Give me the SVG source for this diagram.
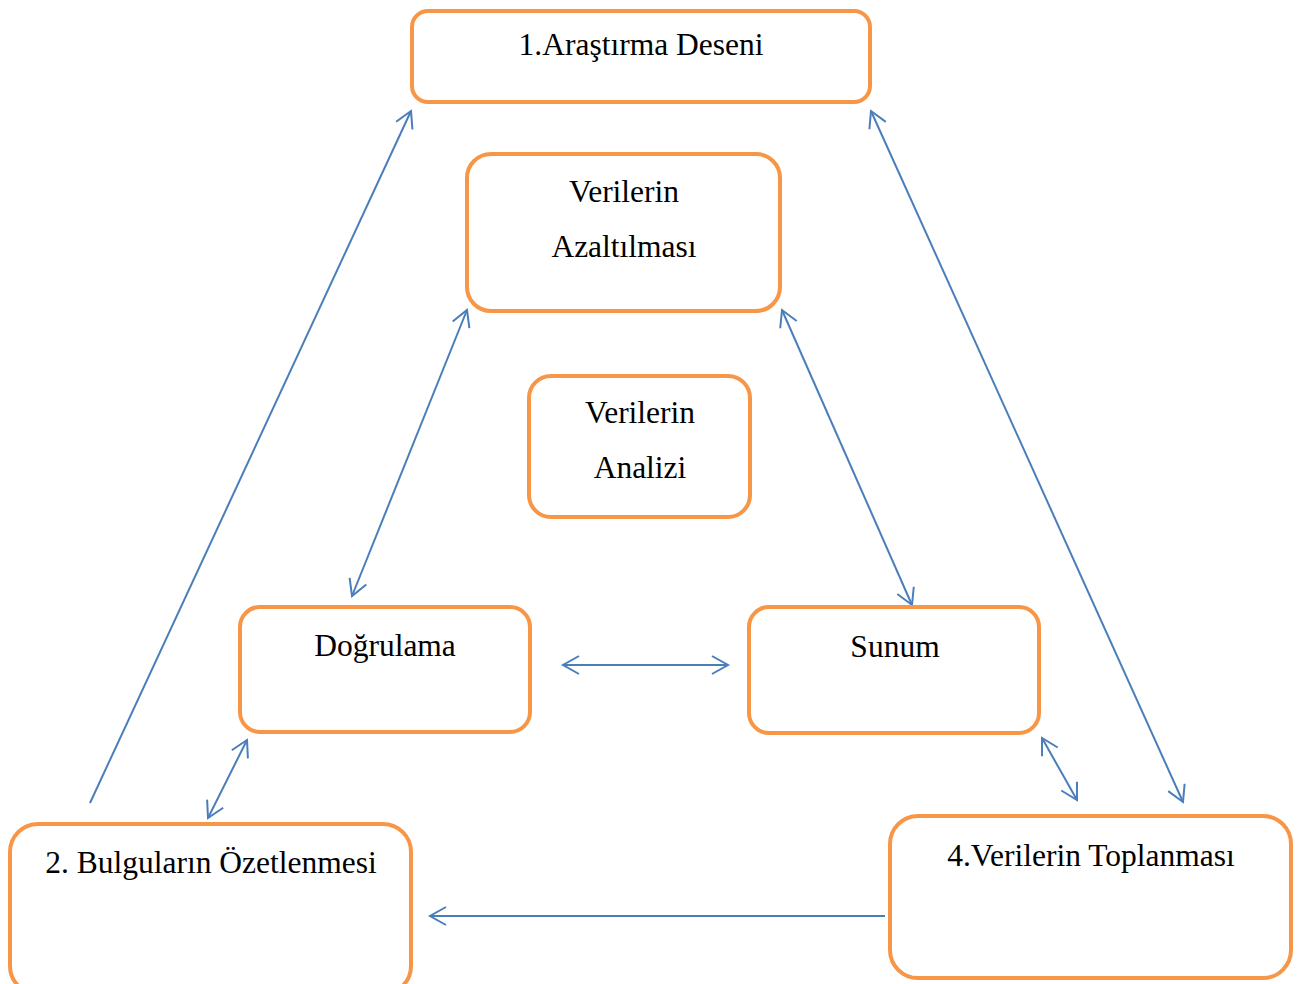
<svg xmlns="http://www.w3.org/2000/svg" width="1299" height="984" viewBox="0 0 1299 984">
<style>
.box{fill:#fff;stroke:#F79646;stroke-width:4}
.t{font-family:"Liberation Serif","Times New Roman",serif;font-size:31.5px;fill:#000;text-anchor:middle}
.c{stroke:#4A7EBB;stroke-width:2;fill:none}
</style>
<defs>
<marker id="ah" markerUnits="userSpaceOnUse" markerWidth="40" markerHeight="40" viewBox="-20 -20 40 40" refX="0" refY="0" orient="auto-start-reverse">
<path d="M-16,-9 L0,0 L-16,9" fill="none" stroke="#4A7EBB" stroke-width="2"/>
</marker>
</defs>
<rect width="1299" height="984" fill="#fff"/>
<g id="connectors">
<line class="c" x1="90" y1="803" x2="411" y2="111" marker-end="url(#ah)"/>
<line class="c" x1="871" y1="111" x2="1183" y2="802" marker-start="url(#ah)" marker-end="url(#ah)"/>
<line class="c" x1="467" y1="310" x2="352" y2="596" marker-start="url(#ah)" marker-end="url(#ah)"/>
<line class="c" x1="782" y1="310" x2="912" y2="605" marker-start="url(#ah)" marker-end="url(#ah)"/>
<line class="c" x1="563" y1="665" x2="728" y2="665" marker-start="url(#ah)" marker-end="url(#ah)"/>
<line class="c" x1="247" y1="740" x2="208" y2="818" marker-start="url(#ah)" marker-end="url(#ah)"/>
<line class="c" x1="1042" y1="738" x2="1077" y2="800" marker-start="url(#ah)" marker-end="url(#ah)"/>
<line class="c" x1="885" y1="916" x2="430" y2="916" marker-end="url(#ah)"/>
</g>
<g id="n1">
<rect class="box" x="412" y="11" width="458" height="91" rx="16"/>
<text class="t" x="641" y="55">1.Araştırma Deseni</text>
</g>
<g id="n2">
<rect class="box" x="467" y="154" width="313" height="157" rx="24"/>
<text class="t" x="624" y="202">Verilerin</text>
<text class="t" x="624" y="257">Azaltılması</text>
</g>
<g id="n3">
<rect class="box" x="529" y="376" width="221" height="141" rx="22"/>
<text class="t" x="640" y="423">Verilerin</text>
<text class="t" x="640" y="478">Analizi</text>
</g>
<g id="n4">
<rect class="box" x="240" y="607" width="290" height="125" rx="20"/>
<text class="t" x="385" y="656">Doğrulama</text>
</g>
<g id="n5">
<rect class="box" x="749" y="607" width="290" height="126" rx="20"/>
<text class="t" x="895" y="657">Sunum</text>
</g>
<g id="n6">
<rect class="box" x="10" y="824" width="401" height="170" rx="28"/>
<text class="t" x="211" y="873">2. Bulguların Özetlenmesi</text>
</g>
<g id="n7">
<rect class="box" x="890" y="816" width="401" height="162" rx="28"/>
<text class="t" x="1091" y="866">4.Verilerin Toplanması</text>
</g>
</svg>
